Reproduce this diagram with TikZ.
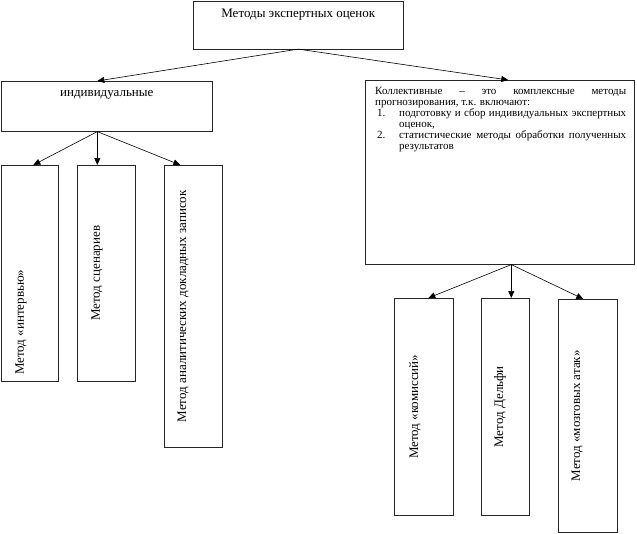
\documentclass[tikz,border=0pt]{standalone}
\usepackage{fontspec}
\setmainfont{Liberation Serif}
\usetikzlibrary{arrows.meta}

\begin{document}
\begin{tikzpicture}
[x=1pt,y=-1pt,
  boxDecorate/.style={draw=black!85,line width=0.6pt,anchor=north west,inner sep=0pt},
  arrowDecorate/.style={-{Triangle[length=7pt,width=6pt]},line width=0.6pt},
  textDecorate/.style={font=\fontsize{13}{15}\selectfont,inner sep=0pt},
  vertText/.style={textDecorate,rotate=90}]
\useasboundingbox (0,0) rectangle (637,533);
%% boxes
\foreach \boxname/\x/\y/\w/\h in {
  top/193/0.5/210/48, indiv/1/81/211/50, coll/365/80/269/184,
  %% individual methods
  mA/1/165/57/216, mB/77/165/58/216, mC/164/165/58/282,
  %% collective methods
  mD/394/298/59/217, mE/481/298/48/217, mF/558/299/59/233}
{
  \node (\boxname) at (\x,\y) [boxDecorate,minimum width=\w pt,minimum height=\h pt] {};
}
%% texts
\node (topText) at ([yshift=-14pt]top.north) [textDecorate] {Методы экспертных оценок};
\node (indivText) at ([yshift=-14pt]indiv.north) [textDecorate] {индивидуальные};
\node (collText) at ([xshift=10pt,yshift=-7pt]coll.north west)
  [anchor=north west,text width=251pt,align=justify,inner sep=0pt,
   font=\fontsize{11}{11}\selectfont]
  {\hyphenpenalty=10000 Коллективные – это комплексные методы\linebreak
   прогнозирования, т.к. включают:\par
   \hangindent=24pt\hangafter=1\noindent\makebox[24pt][l]{\hspace{2pt}1.}подготовку
   и сбор индивидуальных экспертных\linebreak оценок,\par
   \hangindent=24pt\hangafter=1\noindent\makebox[24pt][l]{\hspace{2pt}2.}статистические
   методы обработки полученных\linebreak результатов\par};
\node (tA) at ([xshift=20pt,yshift=-49pt]mA.west) [vertText] {Метод «интервью»};
\node (tB) at ([xshift=20pt]mB.west) [vertText] {Метод сценариев};
\node (tC) at ([xshift=19pt]mC.west) [vertText] {Метод аналитических докладных записок};
\node (tD) at ([xshift=21pt]mD.west) [vertText] {Метод «комиссий»};
\node (tE) at ([xshift=19pt]mE.west) [vertText] {Метод Дельфи};
\node (tF) at ([xshift=19pt]mF.west) [vertText] {Метод «мозговых атак»};
%% connector ends
\coordinate (topS) at (top.south);
\coordinate (indivN) at ([xshift=-9.5pt]indiv.north);
\coordinate (collN) at ([xshift=8.5pt]coll.north);
\coordinate (indivS) at ([xshift=-9.5pt]indiv.south);
\coordinate (collS) at ([xshift=11.5pt]coll.south);
\coordinate (mAN) at ([xshift=3.5pt]mA.north);
\coordinate (mBN) at (mB.north -| indivS);
\coordinate (mCN) at ([xshift=-13pt]mC.north);
\coordinate (mDN) at ([xshift=4.5pt]mD.north);
\coordinate (mEN) at (mE.north -| collS);
\coordinate (mFN) at ([xshift=-4.5pt]mF.north);
%% arrows
\path
\foreach \startnode/\endnode in {
  topS/indivN, topS/collN,
  indivS/mAN, indivS/mBN, indivS/mCN,
  collS/mDN, collS/mEN, collS/mFN}
{
  (\startnode) edge[arrowDecorate] (\endnode)
};
\end{tikzpicture}
\end{document}
